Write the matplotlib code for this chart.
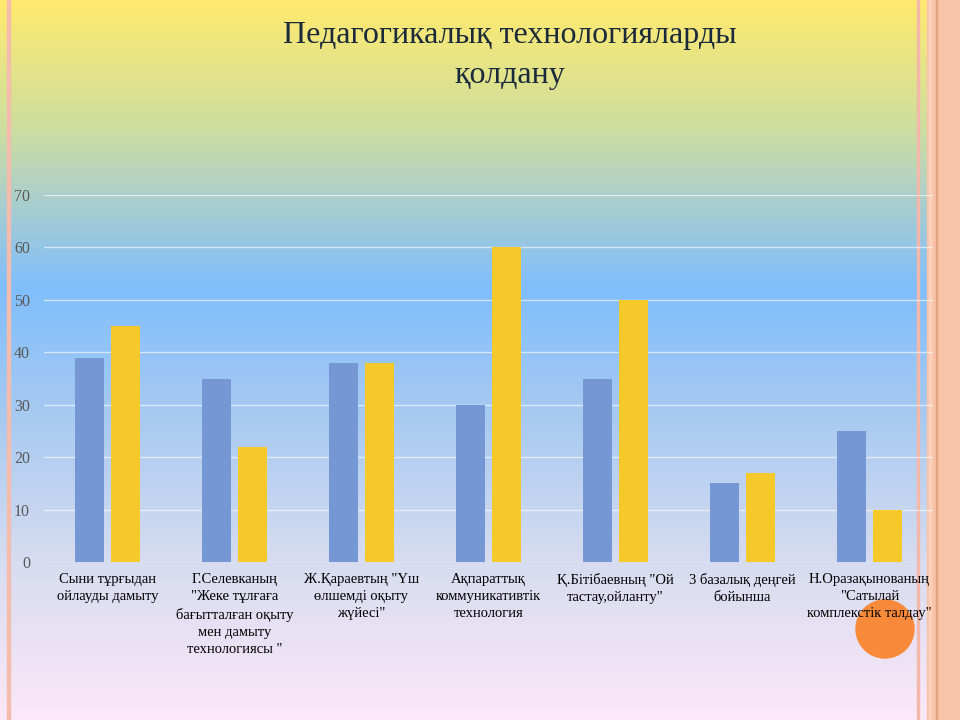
import numpy as np
import matplotlib
import matplotlib.pyplot as plt
from matplotlib.patches import Rectangle, Circle

matplotlib.use('Agg')
plt.rcParams['font.family'] = ['Liberation Serif', 'DejaVu Serif']

title = 'Педагогикалық технологияларды\nқолдану'
categories = [
    'Сыни тұрғыдан\nойлауды дамыту',
    'Г.Селевканың\n"Жеке тұлғаға\nбағытталған оқыту\nмен дамыту\nтехнологиясы "',
    'Ж.Қараевтың "Үш\nөлшемді оқыту\nжүйесі"',
    'Ақпараттық\nкоммуникативтік\nтехнология',
    'Қ.Бітібаевның "Ой\nтастау,ойланту"',
    '3 базалық деңгей\nбойынша',
    'Н.Оразақынованың\n"Сатылай\nкомплекстік талдау"',
]
series1 = [39, 35, 38, 30, 35, 15, 25]
series2 = [45, 22, 38, 60, 50, 17, 10]
yticks = [0, 10, 20, 30, 40, 50, 60, 70]

fig = plt.figure(figsize=(9.6, 7.2), dpi=100)

# фон слайда: вертикальный градиент
bg = fig.add_axes([0, 0, 1, 1])
stops = [0.0, 0.18, 0.28, 0.40, 0.58, 0.78, 1.0]
cols = np.array([
    [255, 234, 110],
    [205, 222, 160],
    [170, 206, 205],
    [128, 190, 252],
    [168, 202, 240],
    [215, 220, 240],
    [252, 232, 248],
]) / 255
t = np.linspace(0, 1, 720)
grad = np.stack([np.interp(t, stops, cols[:, i]) for i in range(3)], axis=1)
bg.imshow(grad[:, None, :], aspect='auto', extent=[0, 960, 720, 0])
bg.set_xlim(0, 960)
bg.set_ylim(720, 0)
bg.axis('off')

# рамка справа и линия слева
bg.add_patch(Rectangle((916.5, 0), 2.5, 720, color='#f4b8aa', zorder=5))
bg.add_patch(Rectangle((927, 0), 33, 720, color='#f9c3a8', zorder=5))
bg.add_patch(Rectangle((928.5, 0), 2, 720, color='#fbd0bc', zorder=6))
bg.add_patch(Rectangle((935.5, 0), 1.5, 720, color='#e2a282', zorder=6))
bg.add_patch(Rectangle((7, 0), 3, 720, color='#f4bcac', zorder=5))

ax = fig.add_axes([44 / 960, 158 / 720, 889 / 960, 367 / 720])
ax.patch.set_alpha(0)
x = np.arange(len(categories))
w = 0.225
ax.bar(x - 0.142, series1, width=w, color='#7598d4', zorder=3)
ax.bar(x + 0.142, series2, width=w, color='#f5c92a', zorder=3)
ax.set_xlim(-0.5, len(categories) - 0.5)
ax.set_ylim(0, 70)
ax.set_yticks(yticks)
ax.set_yticklabels([str(v) for v in yticks], fontsize=11.5, color='#595959')
ax.tick_params(axis='y', length=0, pad=10)
ax.set_xticks(x)
ax.set_xticklabels(categories, fontsize=10.5, color='black', linespacing=1.4)
ax.tick_params(axis='x', length=0, pad=8)
ax.grid(axis='y', color='white', alpha=0.6, linewidth=1, zorder=0)
for s in ax.spines.values():
    s.set_visible(False)

fig.text(510 / 960, 1 - 55 / 720, title, ha='center', va='center',
         fontsize=23, color='#1b2a3a', linespacing=1.5)

# оранжевый кружок
bg.add_patch(Circle((885, 629), 29, color='#f98a3a', zorder=7))

fig.savefig('out.png', dpi=100)
